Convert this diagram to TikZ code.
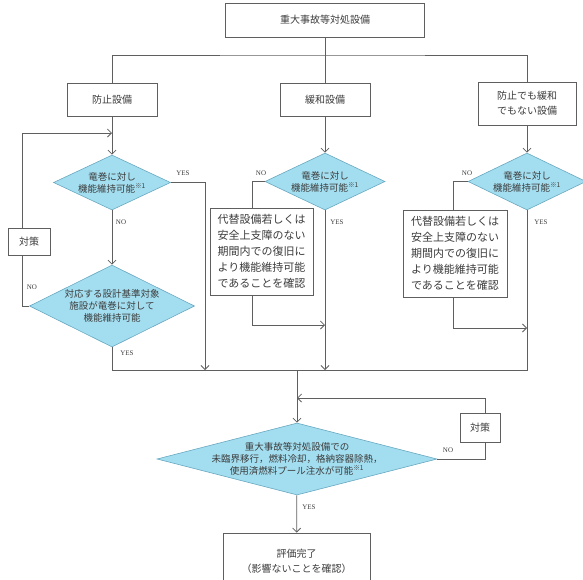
\documentclass[tikz,border=0pt]{standalone}
\usepackage{fontspec}
\setmainfont{Noto Sans CJK JP}
\newfontfamily\lblfont{Liberation Serif}
\usepackage{tikz}
\usetikzlibrary{arrows.meta,positioning,shapes.geometric}
\definecolor{flLine} {RGB}{ 95, 95, 95}
\definecolor{flText} {RGB}{ 60, 60, 60}
\definecolor{flCyan} {RGB}{163,222,240}
\definecolor{flCyanD}{RGB}{105,168,192}

\begin{document}
\begin{tikzpicture}[x=1pt,y=-1pt,
  every node/.style={text=flText},
  >={Straight Barb[length=4pt,width=8pt]},
  line/.style={draw=flLine,line width=0.8pt},
  box/.style={draw=flLine,line width=0.8pt,fill=white,align=center,
              inner sep=0pt,font=\fontsize{10}{15}\selectfont},
  note/.style={box,font=\fontsize{11}{16}\selectfont},
  dia/.style={diamond,draw=flCyanD,line width=0.6pt,fill=flCyan,
              align=center,inner sep=0pt,aspect=2,
              font=\fontsize{9.5}{12}\selectfont},
  lbl/.style={font=\lblfont\fontsize{7}{8}\selectfont,inner sep=0pt}
]
\useasboundingbox (0,0) rectangle (583,579);

% equipment classes
\node[box,minimum width=199pt,minimum height=34pt] (T) at (325,20) {重大事故等対処設備};
\node[box,minimum width=90pt,minimum height=33pt]  (P) at (112,99.5) {防止設備};
\node[box,minimum width=90pt,minimum height=33pt]  (M) at (325,99.5) {緩和設備};
\node[box,minimum width=98pt,minimum height=43pt]  (R) at (527,103.5) {防止でも緩和\\でもない設備};

% checks
\node[dia,minimum width=117pt,minimum height=55pt] (D1) at (112,182.5) {竜巻に対し\\機能維持可能\textsuperscript{※1}};
\node[dia,minimum width=165pt,minimum height=82pt] (D2) at (112,306) {対応する設計基準対象\\施設が竜巻に対して\\機能維持可能};
\node[dia,minimum width=120pt,minimum height=57pt] (D3) at (325,181.5) {竜巻に対し\\機能維持可能\textsuperscript{※1}};
\node[dia,minimum width=118pt,minimum height=57pt] (D4) at (527,181.5) {竜巻に対し\\機能維持可能\textsuperscript{※1}};
\node[dia,minimum width=280pt,minimum height=72pt,aspect=3.9,inner xsep=-20pt] (D5) at (297,459)
  {重大事故等対処設備での\\未臨界移行，燃料冷却，格納容器除熱，\\使用済燃料プール注水が可能\textsuperscript{※1}};

\node[note,minimum width=103pt,minimum height=87pt] (A1) at (261.5,251.5) {代替設備若しくは\\安全上支障のない\\期間内での復旧に\\より機能維持可能\\であることを確認};
\node[note,minimum width=104pt,minimum height=87pt] (A2) at (455,253.5) {代替設備若しくは\\安全上支障のない\\期間内での復旧に\\より機能維持可能\\であることを確認};
\node[box,minimum width=42pt,minimum height=27pt] (K1) at (29,241.5) {対策};
\node[box,minimum width=40pt,minimum height=29pt] (K2) at (480,427.5) {対策};
\node[box,minimum width=147pt,minimum height=56pt] (E) at (296.5,561) {評価完了\\（影響ないことを確認）};

% junctions
\coordinate (bus) at (325,55);
\coordinate (m1)  at (112,133);
\coordinate (m3)  at (325,325);
\coordinate (m4)  at (527,328);
\coordinate (m5)  at (297,398);
\coordinate (j1)  at (205,370);
\coordinate (j2)  at (325,370);
\coordinate (j3)  at (527,370);
\coordinate (jm)  at (297,370);

\draw[line] (T) -- (M);
\draw[line] (P.north) |- (bus) -| (R.north);
\draw[line,->] (P) -- (D1);
\draw[line,->] (M) -- (D3);
\draw[line,->] (R) -- (D4);

\draw[line,->] (D1) -- (D2);
\draw[line,->] (D1.east) -| (j1);
\draw[line] (D2.west) -| ([xshift=-7pt]K1.south);
\draw[line,->] ([xshift=-7pt]K1.north) |- (m1);
\draw[line] (D2.south) |- (j3) -- (D4.south);

\draw[line] (D3.west) -| ([xshift=-9.5pt]A1.north);
\draw[line,->] ([xshift=-9.5pt]A1.south) |- (m3);
\draw[line,->] (D3) -- (j2);

\draw[line] (D4.west) -| ([xshift=-2pt]A2.north);
\draw[line,->] ([xshift=-2pt]A2.south) |- (m4);

\draw[line,->] (jm) -- (D5);
\draw[line] (D5.east) -| ([xshift=5pt]K2.south);
\draw[line,->] ([xshift=5pt]K2.north) |- (m5);
\draw[line,->] (D5) -- (E);

% branch labels
\node[lbl] (y1) at (183,173) {YES};
\node[lbl] (n1) at (121,222) {NO};
\node[lbl] (n2) at (32,287)  {NO};
\node[lbl] (y2) at (127,353) {YES};
\node[lbl] (n3) at (261,173) {NO};
\node[lbl] (y3) at (337,222) {YES};
\node[lbl] (n4) at (467,173) {NO};
\node[lbl] (y4) at (541,222) {YES};
\node[lbl] (n5) at (448,450) {NO};
\node[lbl] (y5) at (309,507) {YES};
\end{tikzpicture}
\end{document}
